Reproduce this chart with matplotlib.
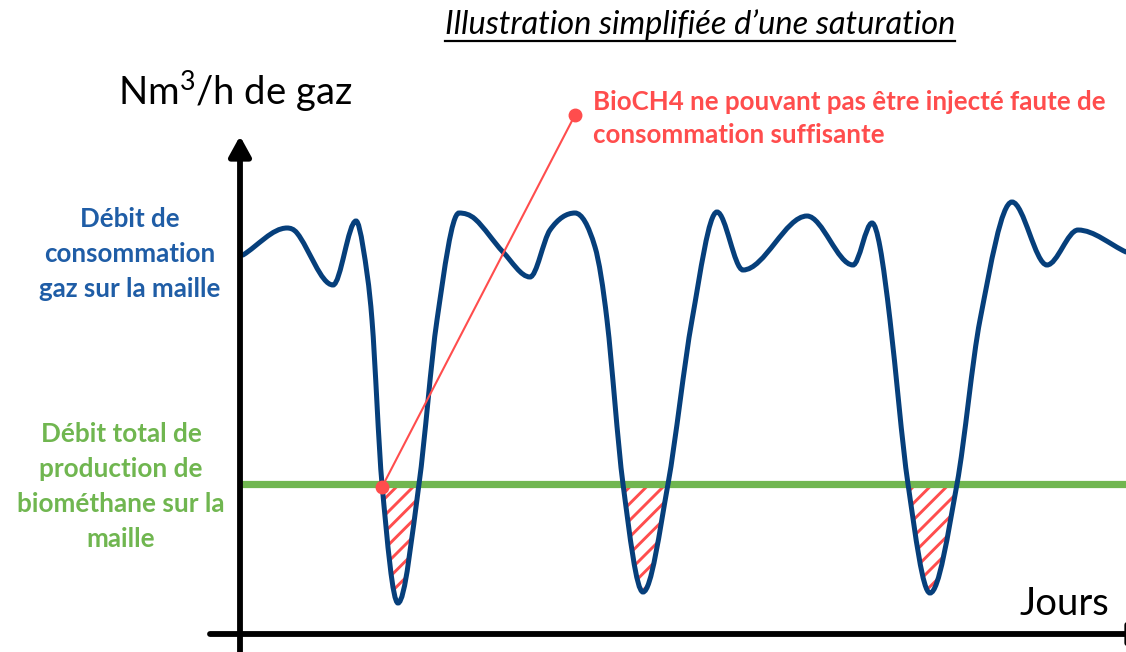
"""Illustration simplifiée d'une saturation : consommation gaz vs production de biométhane."""

import matplotlib

matplotlib.use("Agg")
import matplotlib.pyplot as plt
import numpy as np
from matplotlib.lines import Line2D
from matplotlib.patches import PathPatch, Rectangle
from matplotlib.path import Path

plt.rcParams.update({
    "font.family": ["Lato", "DejaVu Sans"],
    "hatch.linewidth": 2.1,
    "mathtext.fontset": "custom",
    "mathtext.rm": "Lato",
    "mathtext.it": "Lato:italic",
    "mathtext.bf": "Lato:bold",
})

# débit de consommation sur la maille (jours, unités arbitraires)
DAYS = [0.03, 0.47, 0.57, 0.93, 1.16, 1.23, 1.32, 1.42, 1.58, 1.79, 1.97,
        2.19, 2.35, 2.63, 2.90, 3.10, 3.35, 3.55, 3.67, 3.83, 4.03, 4.28,
        4.52, 4.77, 5.03, 5.67, 6.13, 6.32, 6.40, 6.50, 6.68, 6.90, 7.17,
        7.40, 7.72, 8.07, 8.38, 8.86]
CONSO = [3.79, 4.06, 4.01, 3.49, 4.13, 3.87, 3.14, 1.50, 0.31, 1.50, 3.14,
         4.21, 4.15, 3.82, 3.57, 4.04, 4.21, 3.87, 3.14, 1.50, 0.42, 1.50,
         3.14, 4.22, 3.64, 4.18, 3.69, 4.11, 3.87, 3.14, 1.50, 0.41, 1.50,
         3.14, 4.32, 3.69, 4.04, 3.82]
PRODUCTION = 1.50
CALLOUT_X = [1.42, 3.35]
CALLOUT_Y = [1.47, 5.19]

TITLE = "Illustration simplifiée d’une saturation"
Y_LABEL = "Nm$^3$/h de gaz"
X_LABEL = "Jours"
RED_LINES = ["BioCH4 ne pouvant pas être injecté faute de", "consommation suffisante"]
BLUE_LINES = ["Débit de", "consommation", "gaz sur la maille"]
GREEN_LINES = ["Débit total de", "production de", "biométhane sur la", "maille"]

NAVY, GREEN, RED, BLUE = "#063F7B", "#70B650", "#FF4D4D", "#1F5DA6"
W, H = 1126, 652


def _smooth_path(x, y):
    x, y = np.asarray(x, float), np.asarray(y, float)
    d = np.diff(y) / np.diff(x)
    m = np.zeros_like(y)
    for i in range(1, len(y) - 1):
        if d[i - 1] * d[i] > 0:
            m[i] = (y[i + 1] - y[i - 1]) / (x[i + 1] - x[i - 1])
    m[0], m[-1] = d[0], d[-1]
    verts, codes = [(x[0], y[0])], [Path.MOVETO]
    for i in range(len(x) - 1):
        h = x[i + 1] - x[i]
        verts += [
            (x[i] + h / 3, y[i] + m[i] * h / 3),
            (x[i + 1] - h / 3, y[i + 1] - m[i + 1] * h / 3),
            (x[i + 1], y[i + 1]),
        ]
        codes += [Path.CURVE4] * 3
    return verts, codes


def px(x, y):
    return x / W, 1 - y / H


fig = plt.figure(figsize=(W / 100, H / 100), dpi=100)
ax = fig.add_axes([0, 0, 1, 1])
ax.set_xlim(-2.40, 8.86)
ax.set_ylim(-0.18, 6.34)
ax.axis("off")

verts, codes = _smooth_path(DAYS, CONSO)

# zone hachurée : sous la production, au-dessus de la consommation
top = 7.0
clip = PathPatch(
    Path(verts + [(DAYS[-1], top), (DAYS[0], top), verts[0]],
         codes + [Path.LINETO, Path.LINETO, Path.CLOSEPOLY]),
    transform=ax.transData,
)
hatch = Rectangle((DAYS[0], -0.2), DAYS[-1] - DAYS[0], PRODUCTION + 0.2,
                  facecolor="none", edgecolor=RED, hatch="//", lw=0, zorder=1)
ax.add_patch(hatch)
hatch.set_clip_path(clip)

ax.axhline(PRODUCTION, xmin=(DAYS[0] + 2.40) / 11.26, xmax=1, color=GREEN, lw=5.2, zorder=2)
ax.add_patch(PathPatch(Path(verts, codes), facecolor="none", edgecolor=NAVY,
                       lw=3.6, capstyle="round", zorder=3))

# axes dessinés à la main
arrow = dict(arrowstyle="-|>,head_length=0.4,head_width=0.22", lw=4.2,
             color="black", shrinkA=0, shrinkB=0, mutation_scale=30)
ax.annotate("", xy=(0, 4.98), xytext=(0, -0.18), arrowprops=arrow,
            annotation_clip=False, zorder=4)
ax.annotate("", xy=(9.10, 0), xytext=(-0.30, 0), arrowprops=arrow,
            annotation_clip=False, zorder=4)

# renvoi vers le texte rouge
ax.plot(CALLOUT_X, CALLOUT_Y, color=RED, lw=1.5, zorder=5)
ax.plot(CALLOUT_X, CALLOUT_Y, "o", color=RED, ms=9, zorder=6)

title = fig.text(*px(700, 34), TITLE, ha="center", va="baseline",
                 fontsize=23.5, style="italic", color="black")
fig.text(*px(118, 105), Y_LABEL, ha="left", va="baseline", fontsize=27.5)
fig.text(*px(1020, 615), X_LABEL, ha="left", va="baseline", fontsize=27.5)
for i, line in enumerate(RED_LINES):
    fig.text(*px(593, 110 + 33 * i), line, ha="left", va="baseline",
             fontsize=18.6, fontweight="bold", color=RED)
for i, line in enumerate(BLUE_LINES):
    fig.text(*px(130, 227 + 35 * i), line, ha="center", va="baseline",
             fontsize=18.6, fontweight="bold", color=BLUE)
for i, line in enumerate(GREEN_LINES):
    fig.text(*px(121, 442 + 35 * i), line, ha="center", va="baseline",
             fontsize=18.8, fontweight="bold", color=GREEN)

# soulignement du titre
fig.canvas.draw()
bb = title.get_window_extent().transformed(fig.transFigure.inverted())
fig.add_artist(Line2D([bb.x0, bb.x1], [px(0, 41)[1]] * 2, color="black", lw=1.6))

fig.savefig("out.png", dpi=100)
